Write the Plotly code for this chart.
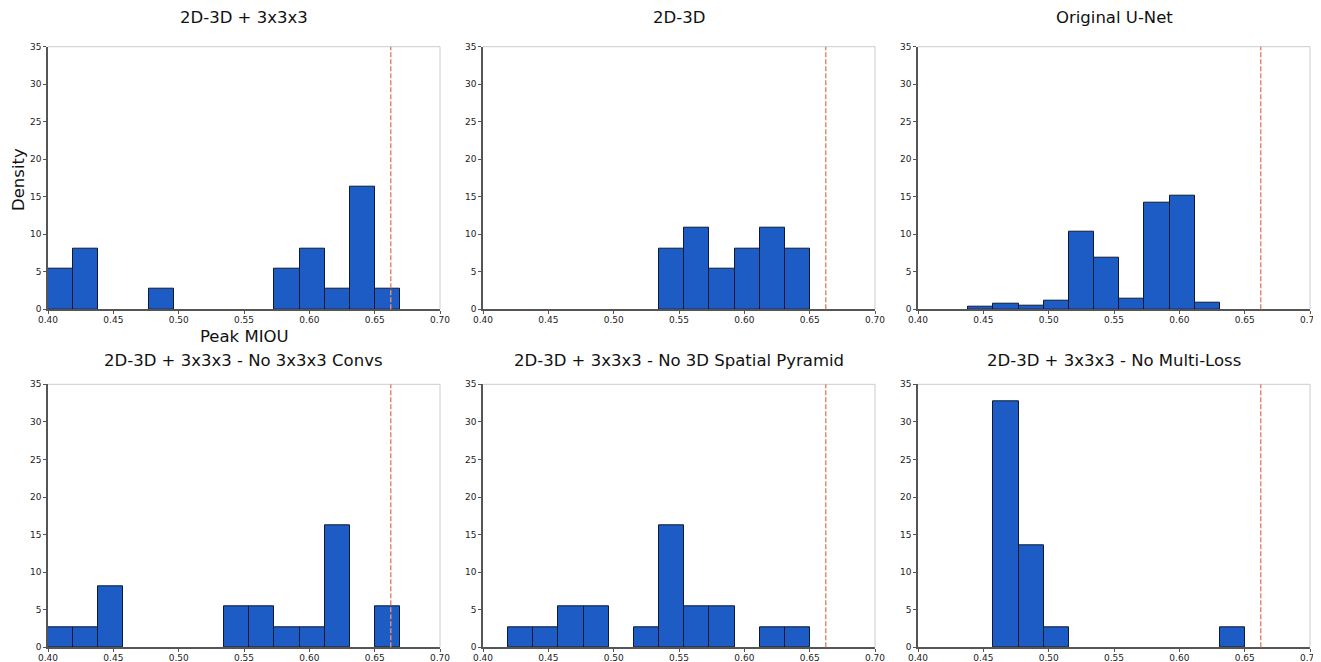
import plotly.graph_objects as go

# ---- data ----
bin_start = 0.40
bin_width = 0.01925
n_bins = 14
titles = [
    "2D-3D + 3x3x3",
    "2D-3D",
    "Original U-Net",
    "2D-3D + 3x3x3 - No 3x3x3 Convs",
    "2D-3D + 3x3x3 - No 3D Spatial Pyramid",
    "2D-3D + 3x3x3 - No Multi-Loss",
]
density_2d3d_333 = [5.4, 8.1, 0, 0, 2.7, 0, 0, 0, 0, 5.4, 8.1, 2.7, 16.3, 2.7]
density_2d3d = [0, 0, 0, 0, 0, 0, 0, 8.1, 10.9, 5.4, 8.1, 10.9, 8.1, 0]
density_unet = [0, 0, 0.3, 0.7, 0.5, 1.2, 10.4, 6.9, 1.4, 14.2, 15.1, 0.9, 0, 0]
density_no_convs = [2.7, 2.7, 8.1, 0, 0, 0, 0, 5.4, 5.4, 2.7, 2.7, 16.3, 0, 5.4]
density_no_pyramid = [0, 2.7, 2.7, 5.4, 5.4, 0, 2.7, 16.3, 5.4, 5.4, 0, 2.7, 2.7, 0]
density_no_multiloss = [0, 0, 0, 32.7, 13.6, 2.7, 0, 0, 0, 0, 0, 0, 2.7, 0]
all_density = [density_2d3d_333, density_2d3d, density_unet,
               density_no_convs, density_no_pyramid, density_no_multiloss]
best_miou = 0.6623
x_ticks = [0.40, 0.45, 0.50, 0.55, 0.60, 0.65, 0.70]
y_ticks = [0, 5, 10, 15, 20, 25, 30, 35]

# ---- layout geometry (viewport pixels; page body has an 8px margin) ----
W, H = 1321, 662
OFF = 8
col_px = [(48, 440), (483, 875), (918, 1310)]
row_px = [(46.7, 309.3), (384.3, 647.3)]
title_gap = [28.7, 24.3]


def px_x(v):
    return (v - OFF) / W


def px_y(v):
    return 1 - (v - OFF) / H


bin_centers = [bin_start + bin_width * (i + 0.5) for i in range(n_bins)]

fig = go.Figure()
annotations = []
shapes = []
layout_axes = {}
tick_font = dict(family="DejaVu Sans", size=9, color="#222")
text_font = dict(family="DejaVu Sans", size=16.5, color="#111")
for idx, dens in enumerate(all_density):
    r, c = divmod(idx, 3)
    ax = "" if idx == 0 else str(idx + 1)
    xs = [bin_centers[i] for i in range(n_bins) if dens[i] > 0]
    ys = [dens[i] for i in range(n_bins) if dens[i] > 0]
    fig.add_trace(go.Bar(
        x=xs, y=ys, width=bin_width,
        marker=dict(color="#1c5cc4", line=dict(color="#0d1a33", width=1)),
        xaxis="x" + ax, yaxis="y" + ax, showlegend=False,
    ))
    x0, x1 = col_px[c]
    y0, y1 = row_px[r]
    xd = [px_x(x0), px_x(x1)]
    yd = [px_y(y1), px_y(y0)]
    layout_axes["xaxis" + ax] = dict(
        domain=xd, range=[0.40, 0.70], anchor="y" + ax,
        tickmode="array", tickvals=x_ticks, tickformat=".2f",
        ticks="outside", ticklen=3, tickcolor="#555", ticklabelstandoff=-2,
        tickfont=tick_font, automargin=False,
        showline=True, linecolor="#555", linewidth=1.5,
        mirror=False, showgrid=False, zeroline=False, fixedrange=True,
    )
    layout_axes["yaxis" + ax] = dict(
        domain=yd, range=[0, 35], anchor="x" + ax,
        tickmode="array", tickvals=y_ticks, ticks="outside", ticklen=3, tickcolor="#555",
        tickfont=tick_font, automargin=False,
        showline=True, linecolor="#555", linewidth=1.5,
        showgrid=False, zeroline=False, fixedrange=True,
    )
    # light top/right frame
    shapes.append(dict(type="line", xref="x" + ax + " domain", yref="y" + ax + " domain",
                       x0=0, x1=1, y0=1, y1=1, line=dict(color="#cccccc", width=1)))
    shapes.append(dict(type="line", xref="x" + ax + " domain", yref="y" + ax + " domain",
                       x0=1, x1=1, y0=0, y1=1, line=dict(color="#cccccc", width=1)))
    # reference best line
    shapes.append(dict(type="line", xref="x" + ax, yref="y" + ax + " domain",
                       x0=best_miou, x1=best_miou, y0=0, y1=1,
                       line=dict(color="#e28a72", width=1.5, dash="5px,2px")))
    annotations.append(dict(
        text=titles[idx], xref="paper", yref="paper",
        x=(xd[0] + xd[1]) / 2, y=px_y(y0 - title_gap[r]),
        xanchor="center", yanchor="middle",
        showarrow=False, font=text_font,
    ))

# axis titles on first panel only
annotations.append(dict(
    text="Peak MIOU", xref="paper", yref="paper",
    x=px_x((col_px[0][0] + col_px[0][1]) / 2), y=px_y(336),
    xanchor="center", yanchor="middle",
    showarrow=False, font=text_font,
))
annotations.append(dict(
    text="Density", xref="paper", yref="paper", textangle=-90,
    x=px_x(18), y=px_y(180), xanchor="center", yanchor="middle",
    showarrow=False, font=text_font,
))

fig.update_layout(
    width=W, height=H, margin=dict(l=0, r=0, t=0, b=0),
    paper_bgcolor="white", plot_bgcolor="white",
    annotations=annotations, shapes=shapes, bargap=0,
    **layout_axes,
)
fig.write_html("out.html")
